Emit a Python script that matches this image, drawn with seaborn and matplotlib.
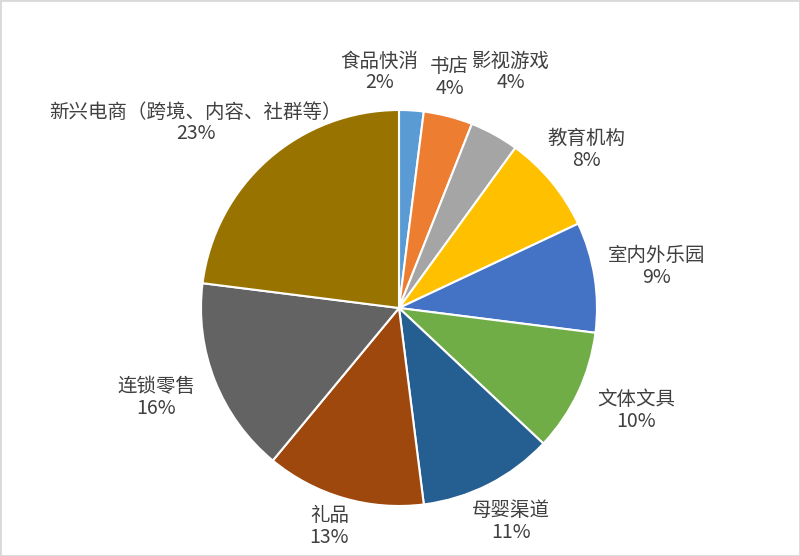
import matplotlib
matplotlib.use('Agg')
import matplotlib.pyplot as plt
import seaborn as sns
import numpy as np
from matplotlib.patches import Rectangle

categories = ['食品快消', '书店', '影视游戏', '教育机构', '室内外乐园',
              '文体文具', '母婴渠道', '礼品', '连锁零售', '新兴电商（跨境、内容、社群等）']
shares = [2, 4, 4, 8, 9, 10, 11, 13, 16, 23]
colors = ['#5B9BD5', '#ED7D31', '#A5A5A5', '#FFC000', '#4472C4',
          '#70AD47', '#255E91', '#9E480E', '#636363', '#997300']

# manual label nudges (pixels) to keep the crowded top labels apart
label_nudge = [(-35, 7), (-6, 8), (-7, 35), (-3, 12), (4, 6),
               (14, -5), (0, -9), (-6, 2), (-13, -5), (31, 13)]

sns.set_theme(style='white')
plt.rcParams['font.family'] = ['Noto Sans CJK SC', 'DejaVu Sans']

fig = plt.figure(figsize=(8, 5.56), dpi=100)
ax = fig.add_axes([0, 0, 1, 1])

# work in pixel units so text extents map straight onto data coords
cx, cy, r = 399, 248, 198
wedges, _ = ax.pie(shares, colors=sns.color_palette(colors), startangle=90,
                   counterclock=False, radius=r, center=(cx, cy),
                   wedgeprops=dict(edgecolor='white', linewidth=1.5))
ax.set_xlim(0, 800)
ax.set_ylim(0, 556)
ax.set_aspect('equal')
ax.axis('off')

fig.canvas.draw()
renderer = fig.canvas.get_renderer()
gap = 10
for w, cat, val, (nx, ny) in zip(wedges, categories, shares, label_nudge):
    ang = np.deg2rad((w.theta1 + w.theta2) / 2)
    c, s = np.cos(ang), np.sin(ang)
    t = ax.text(0, 0, f'{cat}\n{val}%', ha='center', va='center',
                fontsize=14, color='#404040', linespacing=1.05)
    bb = t.get_window_extent(renderer)
    hw, hh = bb.width / 2, bb.height / 2
    x = cx + (r + gap) * c + c * hw + nx
    y = cy + (r + gap) * s + s * hh + ny
    t.set_position((x, y))

fig.patches.append(Rectangle((0, 0), 1, 1, transform=fig.transFigure,
                             fill=False, edgecolor='#D9D9D9', linewidth=2))

fig.savefig('out.png', dpi=100)
